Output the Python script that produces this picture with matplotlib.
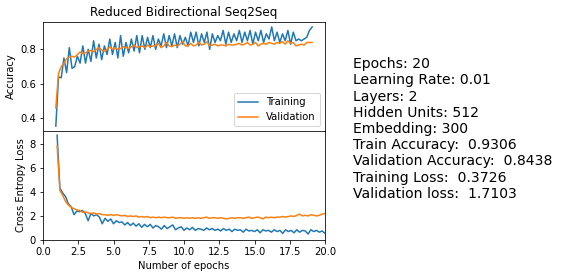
import numpy as np
import matplotlib
matplotlib.use('Agg')
import matplotlib.pyplot as plt

# values, one row per epoch (x.0, x.2, x.4, x.6, x.8)
train_acc = [0.355, 0.64, 0.635, 0.75, 0.665,
             0.81, 0.69, 0.70, 0.76, 0.72,
             0.82, 0.72, 0.80, 0.73, 0.85,
             0.75, 0.83, 0.74, 0.82, 0.77,
             0.86, 0.77, 0.84, 0.75, 0.88,
             0.76, 0.84, 0.78, 0.86, 0.79,
             0.88, 0.78, 0.88, 0.80, 0.87,
             0.81, 0.88, 0.80, 0.86, 0.82,
             0.89, 0.81, 0.88, 0.82, 0.89,
             0.81, 0.88, 0.83, 0.87, 0.82,
             0.90, 0.84, 0.90, 0.82, 0.89,
             0.84, 0.90, 0.80, 0.89, 0.84,
             0.88, 0.85, 0.91, 0.83, 0.90,
             0.84, 0.89, 0.85, 0.91, 0.84,
             0.90, 0.85, 0.91, 0.83, 0.90,
             0.85, 0.91, 0.84, 0.89, 0.86,
             0.93, 0.85, 0.90, 0.84, 0.89,
             0.85, 0.91, 0.83, 0.90, 0.85,
             0.86, 0.85, 0.86, 0.87, 0.91,
             0.93]
val_acc = [0.46, 0.66, 0.70, 0.72, 0.745,
           0.755, 0.76, 0.755, 0.77, 0.785,
           0.775, 0.78, 0.79, 0.795, 0.785,
           0.80, 0.81, 0.795, 0.79, 0.80,
           0.815, 0.80, 0.81, 0.80, 0.805,
           0.815, 0.81, 0.805, 0.815, 0.825,
           0.81, 0.815, 0.82, 0.81, 0.825,
           0.815, 0.82, 0.82, 0.835, 0.81,
           0.82, 0.84, 0.82, 0.815, 0.825,
           0.82, 0.83, 0.845, 0.82, 0.82,
           0.835, 0.82, 0.825, 0.84, 0.825,
           0.83, 0.845, 0.82, 0.825, 0.83,
           0.82, 0.825, 0.825, 0.82, 0.83,
           0.825, 0.825, 0.83, 0.835, 0.825,
           0.83, 0.84, 0.825, 0.83, 0.84,
           0.82, 0.83, 0.835, 0.83, 0.84,
           0.835, 0.83, 0.84, 0.835, 0.845,
           0.83, 0.85, 0.835, 0.84, 0.82,
           0.825, 0.83, 0.825, 0.84, 0.84,
           0.84]
train_loss = [8.7, 4.3, 3.9, 3.6, 3.0,
              2.75, 2.1, 2.4, 2.35, 2.45,
              2.2, 1.6, 2.2, 2.0, 2.1,
              1.9, 1.35, 1.8, 1.55, 1.75,
              1.35, 1.6, 1.45, 1.5, 1.25,
              1.45, 1.2, 1.4, 1.15, 1.35,
              1.05, 1.3, 1.1, 1.3, 1.0,
              1.2, 1.1, 0.9, 1.2, 0.95,
              1.1, 1.25, 0.85, 1.0, 1.1,
              0.8, 1.0, 0.85, 1.05, 0.8,
              0.95, 0.9, 0.8, 1.0, 0.85,
              0.95, 0.8, 0.9, 0.75, 0.95,
              0.8, 0.9, 0.7, 0.9, 0.8,
              0.85, 0.65, 0.9, 0.75, 0.8,
              0.7, 0.85, 0.6, 0.85, 0.75,
              0.8, 0.65, 0.85, 0.7, 0.8,
              0.55, 0.85, 0.7, 0.8, 0.6,
              0.85, 0.65, 0.8, 0.75, 0.5,
              0.85, 0.7, 0.8, 0.65, 0.75,
              0.55]
val_loss = [7.8, 4.1, 3.7, 3.2, 2.9,
            2.7, 2.6, 2.5, 2.45, 2.3,
            2.35, 2.25, 2.2, 2.25, 2.15,
            2.2, 2.1, 2.1, 2.05, 2.1,
            2.05, 2.1, 2.05, 2.0, 2.05,
            1.95, 2.0, 1.95, 2.0, 1.9,
            1.95, 1.9, 1.95, 1.85, 1.9,
            1.85, 1.9, 1.85, 1.9, 1.85,
            1.85, 1.9, 1.8, 1.85, 1.85,
            1.8, 1.85, 1.8, 1.85, 1.8,
            1.85, 1.8, 1.85, 1.9, 1.8,
            1.85, 1.85, 1.8, 1.85, 1.8,
            1.75, 1.8, 1.85, 1.8, 1.85,
            1.85, 1.8, 1.85, 1.9, 1.8,
            1.85, 1.9, 1.85, 1.75, 1.9,
            1.85, 1.9, 1.85, 1.9, 1.9,
            1.95, 1.9, 1.95, 2.0, 1.95,
            2.05, 2.15, 2.0, 2.05, 2.0,
            2.1, 2.05, 2.0, 2.05, 2.15,
            2.2]

epochs = np.linspace(1, 20, len(train_acc))

info = ("Epochs: 20\n"
        "Learning Rate: 0.01\n"
        "Layers: 2\n"
        "Hidden Units: 512\n"
        "Embedding: 300\n"
        "Train Accuracy:  0.9306\n"
        "Validation Accuracy:  0.8438\n"
        "Training Loss:  0.3726\n"
        "Validation loss:  1.7103")

fig = plt.figure(figsize=(561 / 72, 278 / 72), dpi=72)
ax1 = fig.add_axes([43 / 561, 1 - 131 / 278, 282 / 561, 109 / 278])
ax2 = fig.add_axes([43 / 561, 1 - 240 / 278, 282 / 561, 109 / 278])

ax1.plot(epochs, train_acc, label='Training')
ax1.plot(epochs, val_acc, label='Validation')
ax1.set_title('Reduced Bidirectional Seq2Seq')
ax1.set_ylabel('Accuracy')
ax1.set_xticks([])
ax1.legend(loc='lower right')

ax2.plot(epochs, train_loss)
ax2.plot(epochs, val_loss)
ax2.set_xlim(0, 20)
ax2.set_ylim(0, 9.05)
ax2.set_xticks(np.arange(0, 20.1, 2.5))
ax2.set_ylabel('Cross Entropy Loss')
ax2.set_xlabel('Number of epochs')

fig.text(353 / 561, 1 - 129 / 278, info, fontsize=14, va='center', ha='left')

fig.savefig('out.png', dpi=72)
